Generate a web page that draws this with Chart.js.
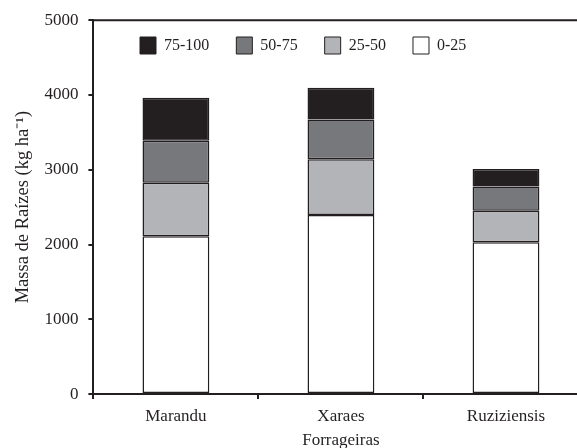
<!DOCTYPE html>
<html>
<head>
<meta charset="utf-8">
<script src="https://cdn.jsdelivr.net/npm/chart.js@4/dist/chart.umd.min.js"></script>
<style>
  html, body { margin: 0; padding: 0; background: #fff; overflow: hidden; }
  #wrap { width: 590px; height: 448px; }
</style>
</head>
<body>
<div id="wrap"><canvas id="raizes"></canvas></div>
<script>
// forrageiras e camadas de solo (cm)
const forrageiras = ['Marandu', 'Xaraes', 'Ruziziensis'];
const camada0_25 = [2110, 2396, 2030];
const camada25_50 = [717, 746, 423];
const camada50_75 = [560, 529, 324];
const camada75_100 = [577, 426, 232];
const yTicks = [0, 1000, 2000, 3000, 4000, 5000];

const ink = '#231f20';
const serif = "'Liberation Serif', 'Times New Roman', serif";

// legenda dentro da area do grafico + moldura superior
const frame = {
    id: 'frame',
    beforeLayout(chart) {
        const lg = chart.legend;
        if (lg && !lg._patched) {
            const fit = lg.fit;
            lg.fit = function () {
                fit.call(this);
                this._realHeight = this.height;
                this.height = 0;
            };
            lg._patched = true;
        }
    },
    afterLayout(chart) {
        const lg = chart.legend;
        lg.left = 113;
        lg.right = 600;
        lg.top = 10;
        lg.bottom = lg.top + (lg._realHeight || 40);
    },
    afterDraw(chart) {
        const a = chart.chartArea;
        const c = chart.ctx;
        c.save();
        c.strokeStyle = ink;
        c.lineWidth = 2;
        c.beginPath();
        c.moveTo(a.left, a.top);
        c.lineTo(a.right, a.top);
        c.lineTo(a.right, a.bottom);
        c.stroke();
        c.restore();
    }
};

function ds(label, data, color) {
    return {
        label: label,
        data: data,
        backgroundColor: color,
        borderColor: ink,
        borderWidth: 1.5,
        borderSkipped: false,
        barPercentage: 0.405,
        categoryPercentage: 1
    };
}

Chart.defaults.font.family = serif;
Chart.defaults.font.size = 17;
Chart.defaults.color = ink;

new Chart(document.getElementById('raizes').getContext('2d'), {
    type: 'bar',
    data: {
        labels: forrageiras,
        datasets: [
            ds('0-25', camada0_25, '#ffffff'),
            ds('25-50', camada25_50, '#b3b4b7'),
            ds('50-75', camada50_75, '#77787b'),
            ds('75-100', camada75_100, ink)
        ]
    },
    options: {
        responsive: true,
        maintainAspectRatio: false,
        animation: false,
        layout: { padding: { top: 13, right: 1.5, left: 11.7, bottom: 0 } },
        plugins: {
            tooltip: { enabled: false },
            legend: {
                position: 'top',
                align: 'start',
                reverse: true,
                labels: {
                    boxWidth: 16,
                    boxHeight: 17,
                    padding: 27,
                    color: ink,
                    font: { size: 16, family: serif },
                    generateLabels(chart) {
                        return Chart.defaults.plugins.legend.labels.generateLabels(chart)
                            .map(l => Object.assign(l, { lineWidth: 1 }));
                    }
                }
            }
        },
        scales: {
            x: {
                stacked: true,
                grid: { display: true, drawOnChartArea: false, color: ink, lineWidth: 2, tickLength: 5, offset: true },
                border: { display: true, color: ink, width: 2 },
                ticks: { padding: 7, color: ink, font: { size: 17 } },
                title: { display: true, text: 'Forrageiras', color: ink, font: { size: 17, lineHeight: 1 }, padding: { top: -1, bottom: -1.5 } }
            },
            y: {
                stacked: true,
                min: 0,
                max: 5000,
                afterBuildTicks(scale) { scale.ticks = yTicks.map(v => ({ value: v })); },
                grid: { display: true, drawOnChartArea: false, color: ink, lineWidth: 2, tickLength: 5 },
                border: { display: true, color: ink, width: 2 },
                ticks: { padding: 10, color: ink, font: { size: 17 }, callback: v => String(v) },
                title: { display: true, text: 'Massa de Raízes (kg ha⁻¹)', color: ink, font: { size: 18.5 }, padding: { top: 0, bottom: 0.5 } }
            }
        }
    },
    plugins: [frame]
});
</script>
</body>
</html>
